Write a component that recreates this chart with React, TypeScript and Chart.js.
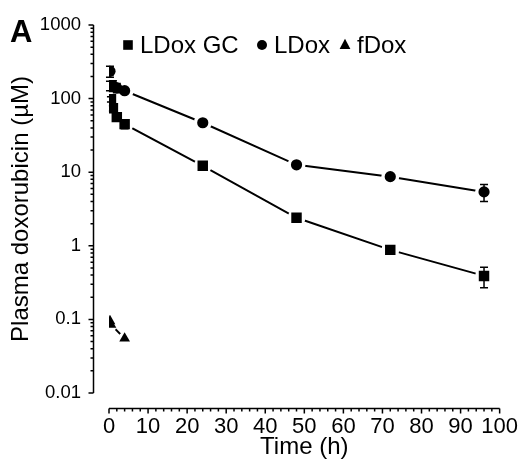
import React, { useEffect, useRef } from 'react';
import { Chart, registerables } from 'chart.js';

Chart.register(...registerables);

// ---------- data ----------
const xTicks = [0, 10, 20, 30, 40, 50, 60, 70, 80, 90, 100];
const yTicks = [0.01, 0.1, 1, 10, 100, 1000];
const yTickLabels = ['0.01', '0.1', '1', '10', '100', '1000'];

const seriesNames = ['LDox GC', 'LDox', 'fDox'];

const timeLdoxGc = [0.25, 0.5, 1, 2, 4, 24, 48, 72, 96];
const ldoxGc = [150, 98, 74, 56, 45, 12.2, 2.4, 0.88, 0.39];
const ldoxGcSd = [22, 8, 6, 6, 6, 0.8, 0.3, 0.1, 0.12];

const timeLdox = [0.25, 1, 2, 4, 24, 48, 72, 96];
const ldox = [235, 150, 140, 128, 47, 12.6, 8.7, 5.4];
const ldoxSd = [40, 25, 20, 8, 3, 0.8, 0.5, 1.4];

const timeFdox = [0.25, 0.5, 4];
const fdox = [0.095, 0.085, 0.055];
const fdoxSd = [0, 0, 0];

const FONT = "'Liberation Sans', Arial, Helvetica, sans-serif";

type Series = { label: string; t: number[]; v: number[]; sd: number[]; style: string; radius: number; halo: number };

const series: Series[] = [
  { label: seriesNames[0], t: timeLdoxGc, v: ldoxGc, sd: ldoxGcSd, style: 'rect', radius: 7.4, halo: 9 },
  { label: seriesNames[1], t: timeLdox, v: ldox, sd: ldoxSd, style: 'circle', radius: 5.6, halo: 9 },
  { label: seriesNames[2], t: timeFdox, v: fdox, sd: fdoxSd, style: 'triangle', radius: 6.2, halo: 6.5 },
];

const toPts = (t: number[], v: number[]) => t.map((x, i) => ({ x, y: v[i] }));

function drawMarker(ctx: CanvasRenderingContext2D, style: string, x: number, y: number, s: number) {
  ctx.beginPath();
  if (style === 'rect') {
    ctx.rect(x - s, y - s, 2 * s, 2 * s);
  } else if (style === 'circle') {
    ctx.arc(x, y, s, 0, Math.PI * 2);
  } else {
    ctx.moveTo(x, y - s * 1.15);
    ctx.lineTo(x + s, y + s * 0.75);
    ctx.lineTo(x - s, y + s * 0.75);
    ctx.closePath();
  }
  ctx.fill();
}

const decorPlugin = {
  id: 'decor',
  afterDatasetsDraw(chart: any) {
    const { ctx } = chart;
    const xs = chart.scales.x;
    const ys = chart.scales.y;
    ctx.save();
    ctx.strokeStyle = '#000';
    ctx.lineWidth = 1.5;
    series.forEach((s) => {
      s.t.forEach((t, i) => {
        const sd = s.sd[i];
        if (!sd) return;
        const px = xs.getPixelForValue(t);
        const top = ys.getPixelForValue(s.v[i] + sd);
        const bot = ys.getPixelForValue(Math.max(s.v[i] - sd, 0.001));
        ctx.beginPath();
        ctx.moveTo(px, top);
        ctx.lineTo(px, bot);
        ctx.moveTo(px - 4, top);
        ctx.lineTo(px + 4, top);
        ctx.moveTo(px - 4, bot);
        ctx.lineTo(px + 4, bot);
        ctx.stroke();
      });
    });
    ctx.restore();
  },
  afterDraw(chart: any) {
    const { ctx, chartArea } = chart;
    const xs = chart.scales.x;
    const ys = chart.scales.y;
    ctx.save();
    ctx.strokeStyle = '#000';
    ctx.lineWidth = 1.5;

    // y axis (offset to the left)
    const ax = Math.round(chartArea.left - 16) + 0.5;
    const yTop = ys.getPixelForValue(yTicks[yTicks.length - 1]);
    const yBot = ys.getPixelForValue(yTicks[0]);
    ctx.beginPath();
    ctx.moveTo(ax, yTop);
    ctx.lineTo(ax, yBot);
    for (let e = -2; e <= 3; e++) {
      const base = Math.pow(10, e);
      const py = ys.getPixelForValue(base);
      ctx.moveTo(ax, py);
      ctx.lineTo(ax - 5, py);
      if (e < 3) {
        for (let m = 2; m <= 9; m++) {
          const pm = ys.getPixelForValue(base * m);
          ctx.moveTo(ax, pm);
          ctx.lineTo(ax - 3, pm);
        }
      }
    }
    ctx.stroke();

    // x axis (offset below)
    const ay = Math.round(chartArea.bottom + 15) + 0.5;
    const x0 = xs.getPixelForValue(xTicks[0]);
    const x1 = xs.getPixelForValue(xTicks[xTicks.length - 1]);
    ctx.beginPath();
    ctx.moveTo(x0, ay);
    ctx.lineTo(x1, ay);
    for (let v = xTicks[0]; v <= xTicks[xTicks.length - 1]; v += 2) {
      const px = xs.getPixelForValue(v);
      ctx.moveTo(px, ay);
      ctx.lineTo(px, ay + (v % 10 === 0 ? 5 : 3));
    }
    ctx.stroke();

    // panel letter
    ctx.fillStyle = '#000';
    ctx.font = `bold 31px ${FONT}`;
    ctx.textAlign = 'left';
    ctx.textBaseline = 'alphabetic';
    ctx.fillText('A', 10, 42);

    // legend
    ctx.font = `24px ${FONT}`;
    ctx.textBaseline = 'middle';
    const legY = 45;
    const legX = [128, 262, 345];
    const legSize = [4.8, 5, 5.4];
    series.forEach((s, i) => {
      drawMarker(ctx, s.style, legX[i], legY, legSize[i]);
      ctx.fillText(s.label, legX[i] + 12, legY + 1);
    });
    ctx.restore();
  },
};

export default function App() {
  const ref = useRef<HTMLCanvasElement | null>(null);

  useEffect(() => {
    if (!ref.current) return;
    const datasets: any[] = [
      ...series.map((s) => ({
        label: s.label + ' line',
        data: toPts(s.t, s.v),
        showLine: true,
        borderColor: '#000',
        borderWidth: 2,
        pointRadius: 0,
        fill: false,
        tension: 0,
        order: 3,
      })),
      ...series.map((s) => ({
        label: s.label + ' halo',
        data: toPts(s.t, s.v),
        showLine: false,
        pointStyle: 'circle',
        pointRadius: s.halo,
        pointBackgroundColor: '#fff',
        pointBorderWidth: 0,
        order: 2,
      })),
      ...series.map((s) => ({
        label: s.label,
        data: toPts(s.t, s.v),
        showLine: false,
        pointStyle: s.style,
        pointRadius: s.radius,
        pointBackgroundColor: '#000',
        pointBorderColor: '#000',
        pointBorderWidth: 0,
        order: 1,
      })),
    ];

    const chart = new Chart(ref.current, {
      type: 'scatter',
      data: { datasets },
      options: {
        animation: false,
        responsive: false,
        devicePixelRatio: 1,
        events: [],
        layout: { padding: { left: 0, right: 18, top: 25, bottom: 0 } },
        plugins: { legend: { display: false }, tooltip: { enabled: false } },
        scales: {
          x: {
            type: 'linear',
            min: xTicks[0],
            max: xTicks[xTicks.length - 1],
            afterBuildTicks: (s: any) => {
              s.ticks = xTicks.map((v) => ({ value: v }));
            },
            afterFit: (s: any) => {
              s.height = 69;
            },
            ticks: {
              font: { family: FONT, size: 22, lineHeight: 2.36 },
              color: '#000',
              padding: 0,
              autoSkip: false,
              maxRotation: 0,
              callback: (v: any) => String(v),
            },
            grid: { display: false },
            border: { display: false },
            title: {
              display: true,
              text: 'Time (h)',
              color: '#000',
              font: { family: FONT, size: 24 },
              padding: { top: 0, bottom: 0 },
            },
          },
          y: {
            type: 'logarithmic',
            min: yTicks[0],
            max: yTicks[yTicks.length - 1],
            afterBuildTicks: (s: any) => {
              s.ticks = yTicks.map((v) => ({ value: v }));
            },
            afterFit: (s: any) => {
              s.width = 109;
            },
            ticks: {
              font: { family: FONT, size: 18.5, lineHeight: 0.5 },
              color: '#000',
              padding: 20,
              autoSkip: false,
              callback: (_v: any, i: number) => yTickLabels[i],
            },
            grid: { display: false },
            border: { display: false },
            title: {
              display: true,
              text: 'Plasma doxorubicin (µM)',
              color: '#000',
              font: { family: FONT, size: 24 },
              padding: { top: 7, bottom: 0 },
            },
          },
        },
      },
      plugins: [decorPlugin],
    });
    return () => chart.destroy();
  }, []);

  return (
    <div style={{ position: 'fixed', left: 0, top: 0, width: 518, height: 462, background: '#fff' }}>
      <canvas ref={ref} width={518} height={462} style={{ display: 'block' }} />
    </div>
  );
}
